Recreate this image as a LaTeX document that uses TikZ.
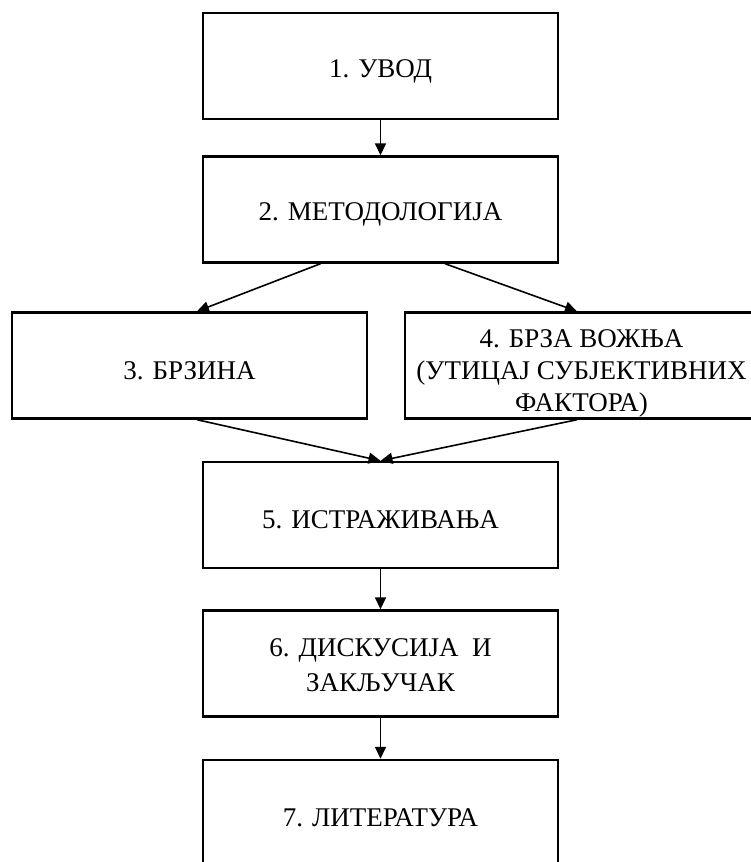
\documentclass[tikz,border=0pt]{standalone}
\usepackage{fontspec}
\setmainfont{Liberation Serif}
\usetikzlibrary{arrows.meta}
\begin{document}
\begin{tikzpicture}[x=1pt,y=-1pt,
  stage/.style 2 args={draw=black, line width=2.4pt, minimum width=355pt, minimum height=106pt,
    inner sep=0pt,
    label={[align=center, inner sep=0pt, yshift=#2,
      font=\fontsize{27}{35}\selectfont]center:#1}},
  link/.style={line width=1.6pt, -{Triangle[length=12pt,width=11pt]}}]
\useasboundingbox (0,0) rectangle (751,862);
\clip (0,0) rectangle (751,862);
% chapters of the thesis
\node[stage={1. УВОД}{-5pt}] (s1) at (380.5,66) {};
\node[stage={2. МЕТОДОЛОГИЈА}{-5pt}] (s2) at (380.5,209.5) {};
\node[stage={3. БРЗИНА}{-5pt}] (s3) at (189.5,365.5) {};
\node[stage={4. БРЗА ВОЖЊА\\[-3pt](УТИЦАЈ СУБЈЕКТИВНИХ\\[-3pt]ФАКТОРА)}{-8pt}, minimum width=353pt] (s4) at (581.5,365.5) {};
\node[stage={5. ИСТРАЖИВАЊА}{-5pt}] (s5) at (380.5,515) {};
\node[stage={6. ДИСКУСИЈА\ \ И\\ЗАКЉУЧАК}{-2pt}] (s6) at (380.5,663.5) {};
\node[stage={7. ЛИТЕРАТУРА}{-5pt}] (s7) at (380.5,813) {};
% flow between chapters
\draw[link] (s1.south) -- (s2.north);
\draw[link] ([xshift=-60pt]s2.south) -- ([xshift=7.5pt]s3.north);
\draw[link] ([xshift=64.5pt]s2.south) -- ([xshift=-4.5pt]s4.north);
\draw[link] ([xshift=7.5pt]s3.south) -- (s5.north);
\draw[link] ([xshift=-4.5pt]s4.south) -- (s5.north);
\draw[link] (s5.south) -- (s6.north);
\draw[link] (s6.south) -- (s7.north);
\end{tikzpicture}
\end{document}
